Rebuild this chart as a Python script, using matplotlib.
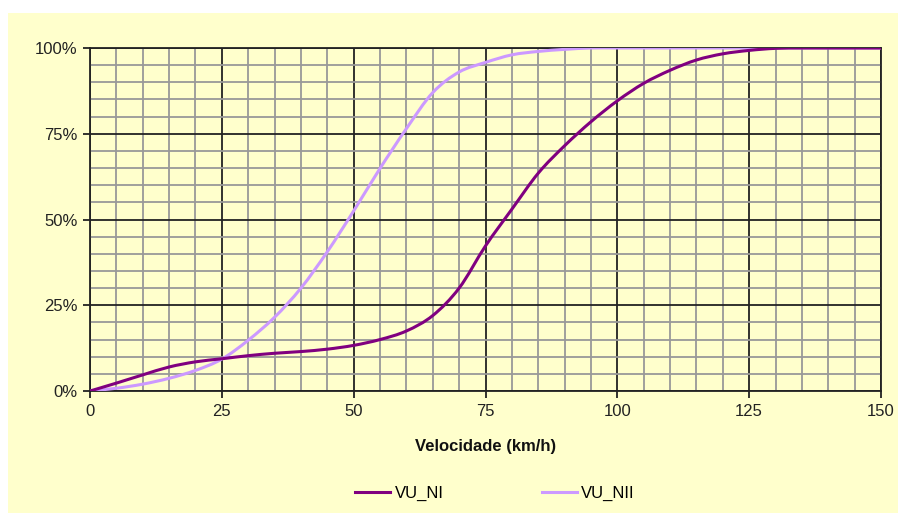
import matplotlib
matplotlib.use('Agg')
import matplotlib.pyplot as plt
from matplotlib.patches import Rectangle, PathPatch
from matplotlib.path import Path
from matplotlib.lines import Line2D
from matplotlib.ticker import MultipleLocator, FuncFormatter

# velocidade (km/h) e distribuicao acumulada (%)
velocidade = [0, 5, 10, 15, 20, 25, 30, 35, 40, 45, 50, 55, 60, 65, 70, 75,
              80, 85, 90, 95, 100, 105, 110, 115, 120, 125, 130, 135, 140, 145, 150]
vu_ni = [0, 2.3, 4.7, 7.0, 8.5, 9.4, 10.3, 11.0, 11.5, 12.2, 13.3, 15.0, 17.5, 22.0, 30.0, 42.3,
         53.0, 63.5, 71.5, 78.5, 84.6, 89.7, 93.5, 96.5, 98.3, 99.3, 99.9, 100, 100, 100, 100]
vu_nii = [0, 0.8, 2.0, 3.7, 6.0, 9.3, 14.8, 21.5, 30.0, 40.6, 52.5, 64.9, 76.5, 87.0, 93.0, 95.8,
          98.0, 99.0, 99.6, 100, 100, 100, 100, 100, 100, 100, 100, 100, 100, 100, 100]
series = ['VU_NI', 'VU_NII']
colors = ['#800080', '#CC99FF']

plt.rcParams['font.family'] = ['Liberation Sans', 'DejaVu Sans']


def smooth_path(xs, ys):
    # linha suavizada como no Excel (bezier tipo catmull-rom)
    pts = list(zip(xs, ys))
    n = len(pts)
    verts = [pts[0]]
    codes = [Path.MOVETO]
    for i in range(n - 1):
        p0 = pts[max(i - 1, 0)]
        p1 = pts[i]
        p2 = pts[i + 1]
        p3 = pts[min(i + 2, n - 1)]
        c1 = (p1[0] + (p2[0] - p0[0]) / 6, p1[1] + (p2[1] - p0[1]) / 6)
        c2 = (p2[0] - (p3[0] - p1[0]) / 6, p2[1] - (p3[1] - p1[1]) / 6)
        verts += [c1, c2, p2]
        codes += [Path.CURVE4] * 3
    return Path(verts, codes)


fig = plt.figure(figsize=(9.05, 5.13), dpi=100)
fig.patch.set_facecolor('white')
fig.patches.append(Rectangle((8 / 905, 0), 890 / 905, 500 / 513, transform=fig.transFigure,
                             facecolor='#FFFFCC', edgecolor='none', zorder=-10))

ax = fig.add_axes([90 / 905, 122 / 513, 791 / 905, 343 / 513])
ax.set_facecolor('#FFFFCC')

handles = []
for name, vals, c, z in zip(series, [vu_ni, vu_nii], colors, [4, 3]):
    ax.add_patch(PathPatch(smooth_path(velocidade, vals), facecolor='none',
                           edgecolor=c, lw=2.2, zorder=z))
    handles.append(Line2D([], [], color=c, lw=2.2, label=name))

ax.set_xlim(0, 150)
ax.set_ylim(0, 100)
ax.xaxis.set_major_locator(MultipleLocator(25))
ax.yaxis.set_major_locator(MultipleLocator(25))
ax.xaxis.set_minor_locator(MultipleLocator(5))
ax.yaxis.set_minor_locator(MultipleLocator(5))
ax.yaxis.set_major_formatter(FuncFormatter(lambda v, p: '%d%%' % v))

ax.grid(which='minor', color='#999999', lw=1.3, zorder=1)
ax.grid(which='major', color='#222222', lw=1.3, zorder=2)
ax.set_axisbelow(True)
for s in ax.spines.values():
    s.set_color('#222222')
    s.set_linewidth(1.3)

ax.tick_params(which='major', length=5, width=1.3, color='#222222', labelsize=12, pad=4,
               labelcolor='#222222')
ax.tick_params(which='minor', length=0)

ax.set_xlabel('Velocidade (km/h)', fontsize=12, fontweight='bold', labelpad=15, color='#111111')

fig.legend(handles=handles, loc='center', bbox_to_anchor=(495 / 905, 20 / 513), ncol=2,
           frameon=False, fontsize=12, handlelength=2.1, handletextpad=0.25, columnspacing=5.9)

fig.savefig('out.png', dpi=100, facecolor=fig.get_facecolor())
